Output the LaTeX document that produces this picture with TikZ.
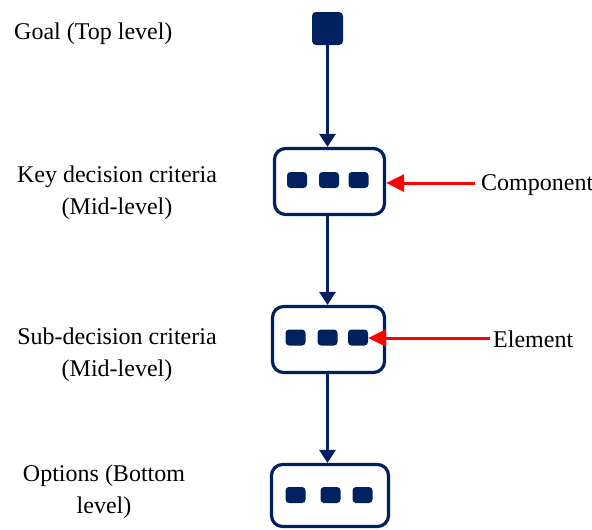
\documentclass[tikz,border=0pt]{standalone}
\usepackage{fontspec}
\setmainfont{Liberation Serif}
\usetikzlibrary{arrows.meta}
\definecolor{navy}{RGB}{0,32,96}
\definecolor{pointer}{RGB}{255,0,0}
\tikzset{
  goalbox/.style={fill=navy, draw=none, rounded corners=4pt, minimum width=31pt, minimum height=33pt, inner sep=0pt},
  levelbox/.style={draw=navy, line width=3.2pt, rounded corners=11pt, fill=white, inner sep=0pt},
  dot/.style={fill=navy, draw=none, rounded corners=3.5pt, minimum width=20pt, minimum height=16pt, inner sep=0pt},
  flow/.style={draw=navy, line width=3pt, -{Triangle[width=16pt,length=13pt]}},
  pointto/.style={draw=pointer, line width=3pt, -{Triangle[width=17pt,length=18pt]}},
  captiontext/.style={font=\rmfamily\fontsize{24}{32}\selectfont, inner sep=0pt, align=center}
}
\begin{document}
\begin{tikzpicture}[x=1pt, y=-1pt]
  \useasboundingbox (0,0) rectangle (592,530);

  % levels
  \node[goalbox] (goal) at (327.5,28.5) {};
  \node[levelbox, minimum width=110pt, minimum height=66pt] (box1) at (329.5,181.5) {};
  \node[levelbox, minimum width=112pt, minimum height=66pt] (box2) at (328.5,339.5) {};
  \node[levelbox, minimum width=117pt, minimum height=62pt] (box3) at (330,495.5) {};

  % items inside each level
  \node[dot] (b1a) at (297,180) {};
  \node[dot] (b1b) at (329,180) {};
  \node[dot] (b1c) at (358.5,180) {};
  \node[dot] (b2a) at (295.5,337.5) {};
  \node[dot] (b2b) at (327.5,337.5) {};
  \node[dot] (b2c) at (358,337.5) {};
  \node[dot] (b3a) at (295.5,495) {};
  \node[dot] (b3b) at (330.5,495) {};
  \node[dot] (b3c) at (362.5,495) {};

  % hierarchy flow
  \draw[flow] (goal.south) -- (goal.south |- box1.north);
  \draw[flow] (goal.south |- box1.south) -- (goal.south |- box2.north);
  \draw[flow] (goal.south |- box2.south) -- (goal.south |- box3.north);

  % level captions
  \node[captiontext, anchor=base west] (tgoal) at (14,39) {Goal (Top level)};
  \node[captiontext] (tkey) at (117,192.5) {Key decision criteria\\(Mid-level)};
  \node[captiontext] (tsub) at (117,355) {Sub-decision criteria\\(Mid-level)};
  \node[captiontext] (topt) at (104,492) {Options (Bottom\\level)};

  % annotations
  \node[captiontext, anchor=base west] (comp) at (481,190) {Component};
  \node[captiontext, anchor=base west] (elem) at (493,347) {Element};
  \coordinate (compstart) at (475,183);
  \coordinate (elemstart) at (490,338);
  \draw[pointto] (compstart) -- (box1.east |- compstart);
  \draw[pointto] (elemstart) -- (b2c.east |- elemstart);
\end{tikzpicture}
\end{document}
